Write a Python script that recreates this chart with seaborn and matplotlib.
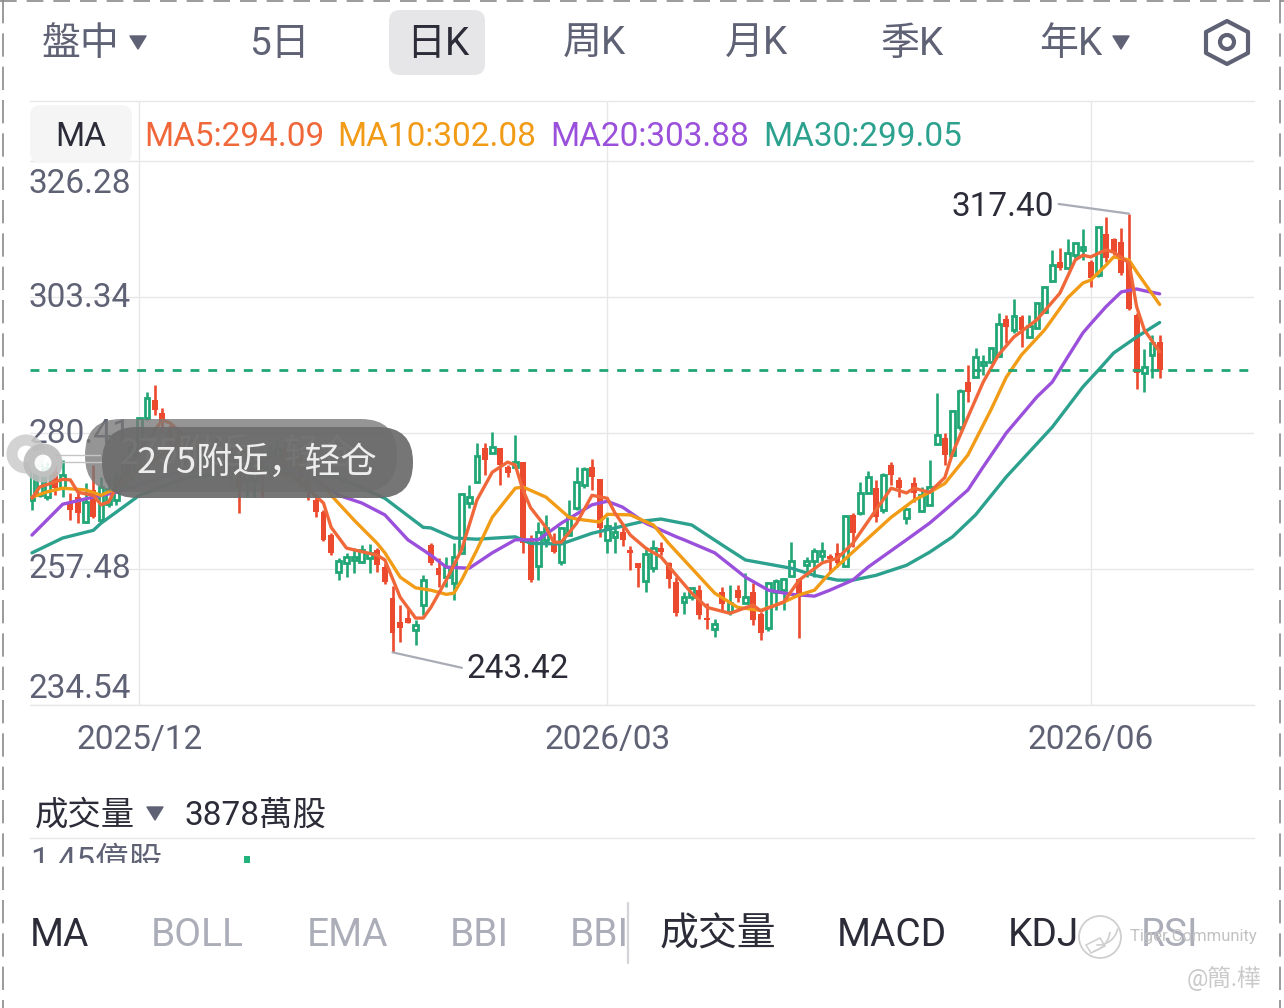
import matplotlib
matplotlib.use("Agg")
import matplotlib.pyplot as plt
import pandas as pd
import seaborn as sns
from matplotlib.patches import FancyBboxPatch, Polygon, Circle, Arc
from matplotlib.transforms import Affine2D

highs = [275.8,275.8,275.5,275.0,275.8,270.3,270.3,272.0,275.0,273.0,
273.0,274.2,276.7,279.2,282.9,287.3,288.5,284.6,281.7,280.9,
280.1,279.2,278.4,279.2,279.6,278.4,277.9,277.2,276.7,277.5,
277.5,278.4,279.2,278.9,279.2,278.4,274.2,269.9,267.4,263.5,
259.3,260.2,261.0,261.5,261.7,261.0,258.5,254.6,251.4,250.9,
248.9,256.4,261.8,259.3,259.5,261.8,270.3,271.6,278.7,278.7,
280.6,277.9,275.0,280.1,275.5,263.2,265.4,266.6,263.5,264.5,
269.1,274.7,274.7,276.0,272.6,266.2,265.4,264.5,261.3,258.5,
261.2,262.4,262.0,258.7,256.1,253.6,254.4,254.8,251.7,249.0,
254.4,254.8,254.8,256.8,255.1,250.2,255.3,255.8,255.9,262.0,
255.9,259.5,261.0,262.0,260.0,261.8,266.6,266.9,272.1,274.0,
272.5,273.7,275.5,273.0,267.7,273.0,271.3,275.8,287.1,280.4,
284.3,287.8,291.9,294.7,293.6,294.9,300.6,300.3,303.0,300.3,
300.3,302.3,305.2,311.3,311.6,313.1,312.4,314.8,309.6,315.1,
316.8,313.3,315.0,317.40,300.6,294.6,296.9,296.9]
lows = [267.4,269.6,269.1,269.9,269.6,265.7,265.2,265.2,266.1,265.7,
268.0,268.3,270.8,272.5,276.7,282.6,283.4,280.6,277.5,276.2,
275.0,273.8,273.3,274.2,274.2,272.8,272.1,266.9,269.6,269.6,
269.6,272.5,273.3,272.8,272.1,271.1,269.1,266.2,262.2,259.8,
255.6,256.1,256.8,258.5,256.8,256.9,254.9,243.42,245.2,248.3,
244.6,249.7,258.1,254.4,254.4,252.2,260.2,267.8,272.0,273.3,
277.0,271.6,273.0,274.5,260.2,255.3,255.6,261.2,260.2,258.1,
263.2,267.4,271.1,270.8,262.9,260.2,260.2,261.3,257.3,254.4,
253.6,256.9,259.8,254.3,249.5,249.9,252.2,249.0,247.3,246.0,
250.2,249.7,251.9,251.7,248.0,245.5,247.0,250.5,250.5,256.3,
245.8,256.1,256.1,258.8,256.8,257.8,257.8,261.2,266.6,270.3,
265.4,266.9,271.6,269.6,265.0,268.8,267.1,268.3,278.4,275.0,
276.5,280.9,285.6,289.8,290.2,292.2,293.2,295.6,297.3,294.9,
296.4,298.1,300.6,305.8,307.9,308.2,309.8,309.6,305.0,306.7,
309.2,310.4,307.0,301.1,287.8,287.3,289.7,289.7]
opens = [269.1,269.9,269.6,273.8,271.1,268.8,269.6,265.4,270.8,265.7,
268.5,269.1,271.6,273.3,277.5,282.9,286.0,283.8,280.9,279.6,
276.2,277.9,274.5,275.0,278.4,277.2,273.8,275.0,272.5,272.5,
276.2,274.2,275.0,277.9,274.5,276.7,272.8,269.1,267.1,263.2,
256.9,258.5,259.0,258.7,259.3,260.7,257.8,252.6,248.5,249.2,
247.2,251.4,261.5,257.6,256.1,255.1,260.2,268.6,272.1,277.9,
277.0,277.9,274.7,274.7,275.5,262.4,258.0,262.4,261.5,258.7,
263.2,267.8,271.6,274.7,272.6,262.4,262.9,263.7,260.7,258.5,
255.4,257.6,261.0,258.5,255.3,251.9,252.7,253.9,249.2,247.3,
253.6,250.2,253.9,251.7,253.6,249.9,247.5,253.6,253.9,256.3,
255.8,258.1,258.9,259.7,259.7,260.2,258.0,266.6,266.9,270.3,
271.1,267.4,275.0,272.5,266.1,272.0,267.3,268.3,278.5,279.6,
276.7,281.4,289.0,289.8,291.9,292.4,293.4,299.6,297.8,300.0,
296.6,298.1,300.8,306.0,309.2,308.2,310.4,311.3,309.2,307.0,
314.0,313.1,312.6,309.1,300.3,290.5,293.6,295.8]
closes = [274.2,275.0,274.5,271.1,273.3,267.4,266.9,268.8,266.2,271.3,
271.0,272.8,275.5,277.9,282.9,286.3,284.3,282.3,279.2,277.5,
278.9,275.0,277.5,278.4,275.5,274.5,276.7,271.1,275.5,276.2,
272.8,277.2,277.9,275.0,277.5,272.8,270.4,267.1,262.4,260.2,
258.9,259.5,259.5,260.7,260.2,258.1,255.3,246.7,247.5,248.3,
248.0,255.6,258.5,256.5,257.8,259.5,270.1,269.6,276.5,275.8,
278.0,275.0,273.7,275.5,261.8,255.6,263.7,264.4,260.3,264.4,
266.2,272.1,274.3,273.0,264.4,264.7,263.7,262.4,260.2,257.6,
260.0,261.0,260.3,255.8,250.0,252.7,254.3,249.7,248.9,248.2,
251.6,251.7,252.6,252.7,248.9,246.7,255.1,255.4,255.8,258.8,
252.7,258.9,260.5,260.5,259.2,258.5,266.4,263.5,270.3,273.0,
266.2,273.3,273.3,271.1,267.6,270.3,269.9,271.3,280.1,276.7,
284.1,287.5,287.3,293.2,292.4,294.7,298.8,298.3,300.1,297.8,
298.5,302.3,305.0,308.7,308.2,310.8,312.4,311.8,306.5,315.1,
309.9,310.8,307.4,301.3,290.5,291.5,295.6,291.03]

ma5_day = [0,1,4,5,6,8,9,10,11,14,17,18,22,28,34,38,39,41,45,46,48,50,51,52,54,56,58,60,62,63,64,65,67,68,69,71,73,75,76,78,80,82,84,86,88,91,94,95,98,100,103,105,107,110,112,114,115,117,119,120,122,124,126,128,131,134,136,137,138,140,141,143,144,145,147]
ma5_val = [269.4,271.3,272.6,272.5,270.4,269.9,268.3,268.8,271.3,277.5,282.6,282.1,277.5,274.2,273.3,268.6,264.5,261.0,259.8,259.0,252.7,249.2,249.2,251.0,255.6,260.7,269.1,273.8,275.5,275.0,270.8,267.8,264.5,262.0,262.0,265.2,269.9,269.4,266.9,263.2,261.0,259.5,256.4,253.4,251.0,250.0,251.4,250.4,251.9,255.6,258.5,259.3,261.8,267.4,271.1,270.3,271.1,270.4,272.9,277.0,283.1,289.0,293.6,296.6,299.5,304.0,309.6,310.4,310.1,311.3,310.9,309.1,301.7,297.8,294.09]
ma10_day = [0,2,4,7,9,11,14,20,30,36,39,42,45,46,48,50,52,54,55,56,58,60,63,64,67,70,71,74,75,78,81,83,86,89,92,95,98,100,102,104,108,112,115,117,119,122,125,127,129,132,135,137,138,140,141,143,144,147]
ma10_val = [269.6,270.5,271.1,270.8,269.9,271.1,274.2,279.2,276.7,274.2,269.9,265.7,261.8,260.2,256.1,254.3,253.9,253.2,253.4,255.6,260.7,266.2,271.1,271.3,269.6,266.2,265.9,265.4,266.7,266.6,264.9,261.8,257.6,253.4,251.0,250.5,251.9,253.1,253.9,256.8,261.5,266.2,269.1,270.4,271.9,276.7,284.3,289.8,293.6,297.8,303.2,305.7,306.2,308.7,310.1,309.6,307.6,302.08]
ma20_day = [0,4,8,11,20,30,36,40,43,46,49,52,54,57,60,63,66,69,73,75,77,80,84,85,89,93,96,99,102,104,107,109,114,117,119,122,124,127,131,133,135,137,138,140,142,144,145,147]
ma20_val = [263.2,268.4,269.6,270.4,274.2,275.8,273.3,269.9,268.6,266.6,262.4,259.8,257.8,257.6,260.2,262.4,262.4,265.2,268.3,268.9,267.9,265.2,262.9,262.4,260.2,256.1,253.9,253.2,252.9,253.9,255.6,257.8,262.4,265.2,267.4,270.8,274.7,280.4,286.5,289.0,293.2,297.3,298.8,301.7,304.2,304.7,304.4,303.88]
ma30_day = [0,4,8,9,14,20,30,40,46,51,52,55,58,63,65,69,73,76,80,82,86,90,93,99,102,105,107,110,114,117,120,123,127,133,137,139,141,144,147]
ma30_val = [260.2,262.7,264.0,265.2,269.9,272.8,274.5,272.8,269.4,264.5,264.4,262.7,262.5,262.9,261.8,261.7,263.5,264.4,265.6,265.9,264.9,261.5,259.0,257.6,256.4,255.6,255.6,256.4,258.1,260.3,262.9,266.6,273.0,281.4,288.2,291.0,293.9,296.6,299.05]

price_ticks = [326.28, 303.34, 280.41, 257.48, 234.54]
price_labels = ["326.28", "303.34", "280.41", "257.48", "234.54"]
price_label_shift = [-19, 3, 3, 3, 19]
date_ticks = [14, 75, 138]
date_labels = ["2025/12", "2026/03", "2026/06"]
last_price = 291.03
vol_day = [28]
vol_val = [1.45]

tabs = [("盤中", 42), ("5日", 249), ("日K", 406), ("周K", 563), ("月K", 725), ("季K", 880), ("年K", 1039)]
ma_legend = [("MA5:294.09", 144, "#F0683A"), ("MA10:302.08", 337, "#F29B16"),
             ("MA20:303.88", 550, "#9B50DC"), ("MA30:299.05", 763, "#2CA18E")]
bottom_tabs = [("MA", 30, "#2B2C38"), ("BOLL", 151, "#ABADB8"), ("EMA", 307, "#ABADB8"), ("BBI", 450, "#ABADB8"),
               ("BBI", 570, "#ABADB8"), ("成交量", 660, "#2B2C38"), ("MACD", 837, "#2B2C38"), ("KDJ", 1008, "#2B2C38"),
               ("RSI", 1141, "#ABADB8")]

GREEN, RED = "#21A675", "#EC4A2E"
GRID, GREY, DARK = "#E7E7EA", "#5F6275", "#2B2C38"
W, H = 1284, 1008

sns.set_theme(style="white")
plt.rcParams["font.family"] = ["Roboto", "Noto Sans CJK TC", "DejaVu Sans"]
plt.rcParams["axes.unicode_minus"] = False

fig = plt.figure(figsize=(W / 100, H / 100), dpi=100, facecolor="white")

def rect(x0, y0, x1, y1):
    return [x0 / W, 1 - y1 / H, (x1 - x0) / W, (y1 - y0) / H]

ax = fig.add_axes(rect(30, 101, 1254, 705))
ax.set_axisbelow(True)
ax.set_facecolor("none")
ax.set_xlim(-0.26, 159.3)
ax.set_ylim(234.54, 336.4)

df = pd.DataFrame({"open": opens, "high": highs, "low": lows, "close": closes})
df["day"] = range(len(df))
df["up"] = df["close"] >= df["open"]
up, down = df[df["up"]], df[~df["up"]]

ax.vlines(up["day"], up["low"], up["high"], color=GREEN, lw=1.9, zorder=2)
ax.vlines(down["day"], down["low"], down["high"], color=RED, lw=1.9, zorder=2)
ax.bar(up["day"], up["close"] - up["open"], bottom=up["open"], width=0.62,
       facecolor="white", edgecolor=GREEN, linewidth=2.0, zorder=3)
ax.bar(down["day"], down["open"] - down["close"], bottom=down["close"], width=0.76,
       color=RED, linewidth=0, zorder=3)

for d, v, c in [(ma30_day, ma30_val, "#2CA18E"), (ma20_day, ma20_val, "#9B50DC"),
                (ma10_day, ma10_val, "#F29B16"), (ma5_day, ma5_val, "#F0683A")]:
    sns.lineplot(x=d, y=v, ax=ax, color=c, lw=2.4, estimator=None, errorbar=None, zorder=4)

ax.axhline(last_price, color=GREEN, lw=2.0, ls=(0, (3.2, 3.2)), zorder=5)

ax.set_xticks(date_ticks, date_labels)
ax.set_yticks(price_ticks, price_labels)
ax.grid(True, color=GRID, lw=1.0)
ax.tick_params(axis="x", length=0, pad=14, labelsize=24, labelcolor=GREY)
ax.tick_params(axis="y", length=0, pad=0, labelsize=24, labelcolor=GREY)
for lab, dy in zip(ax.get_yticklabels(), price_label_shift):
    lab.set_ha("left")
    lab.set_va("center_baseline")
    lab.set_transform(lab.get_transform() + Affine2D().translate(-1.5, dy))
for s in ("left", "right"):
    ax.spines[s].set_visible(False)
for s in ("top", "bottom"):
    ax.spines[s].set_color(GRID)
    ax.spines[s].set_linewidth(1.0)

ax.annotate("317.40", xy=(143, 317.40), xytext=(-75, 10), textcoords="offset pixels",
            ha="right", va="center_baseline", fontsize=24, color=DARK, zorder=6,
            arrowprops=dict(arrowstyle="-", color="#A9ABB6", lw=1.6, shrinkA=1, shrinkB=0, relpos=(1, 0.62)))
ax.annotate("243.42", xy=(47, 243.42), xytext=(74, -13), textcoords="offset pixels",
            ha="left", va="center_baseline", fontsize=24, color=DARK, zorder=6,
            arrowprops=dict(arrowstyle="-", color="#A9ABB6", lw=1.6, shrinkA=1, shrinkB=0, relpos=(0, 0.5)))

# volume strip, cut off right below its first bar
axv = fig.add_axes(rect(30, 838, 1254, 863))
axv.set_facecolor("none")
axv.set_xlim(-0.26, 159.3)
axv.set_ylim(1.275, 1.90)
axv.bar(vol_day, vol_val, width=0.75, color="#22B27C", linewidth=0)
axv.set_xticks([])
axv.set_yticks([])
for s in ("left", "right", "bottom"):
    axv.spines[s].set_visible(False)
axv.spines["top"].set_color(GRID)
axv.spines["top"].set_linewidth(1.0)
axv.text(0, -0.32, "1.45億股", transform=axv.transAxes, fontsize=24, color=GREY,
         va="baseline", ha="left", clip_on=True)

# app chrome, in pixel coordinates
ov = fig.add_axes([0, 0, 1, 1], zorder=10)
ov.set_xlim(0, W)
ov.set_ylim(H, 0)
ov.axis("off")
ov.patch.set_alpha(0)

def box(x0, y0, x1, y1, r, **kw):
    ov.add_patch(FancyBboxPatch((x0 + r, y0 + r), x1 - x0 - 2 * r, y1 - y0 - 2 * r,
                                boxstyle=f"round,pad={r},rounding_size={r}", linewidth=0, **kw))

def tri(cx, cy, c=GREY):
    ov.add_patch(Polygon([(cx - 8, cy - 6), (cx + 8, cy - 6), (cx, cy + 7)], closed=True,
                         facecolor=c, edgecolor=c, lw=1, joinstyle="round"))

def label(x, y, s, size, c, ha="left", **kw):
    ov.text(x, y, s, fontsize=size, color=c, ha=ha, va="center", **kw)

for y0, y1, x0, x1 in [(0, 1008, 3, 3), (0, 1008, 1280, 1280)]:
    ov.plot([x0, x1], [y0, y1], color="#8A8A8A", lw=1.2, ls=(0, (14, 6)))
ov.plot([0, W], [1, 1], color="#8A8A8A", lw=1.2, ls=(0, (10, 6)))

box(389, 10, 485, 75, 11, facecolor="#E6E6E8")
for s, x in tabs:
    label(x, 44, s, 28, DARK if s == "日K" else GREY)
tri(138, 42)
tri(1121, 42)
ov.add_patch(Polygon([(1227, 21), (1248, 32), (1248, 53), (1227, 64), (1206, 53), (1206, 32)], closed=True,
                     facecolor="none", edgecolor=GREY, lw=3, joinstyle="round"))
ov.add_patch(Circle((1227, 42), 7, facecolor="none", edgecolor=GREY, lw=3))

box(30, 105, 132, 163, 11, facecolor="#F5F5F6")
label(81, 137, "MA", 24, DARK, ha="center")
for s, x, c in ma_legend:
    label(x, 137, s, 24, c)

# floating comment bubble with its motion ghost: the front pill lies over the ghost text
SC = ["Noto Sans CJK SC", "DejaVu Sans"]
ov.plot([55, 100], [455, 455], color="#C4C4C4", lw=1)
ov.plot([60, 105], [462, 462], color="#C4C4C4", lw=1)
box(85, 419, 397, 492, 36, facecolor="#787878", alpha=0.78, zorder=1)
label(120, 455, "275附近，轻仓", 25.5, "#E0E0E0", family=SC, zorder=1.5)
box(102, 427, 413, 498, 35, facecolor="#6C6C6C", alpha=0.93, zorder=2)
label(137, 463, "275附近，轻仓", 26, "#EDEDED", family=SC, zorder=3)
ov.add_patch(Circle((26, 454), 14, facecolor="white", edgecolor="#CCCCCC", lw=8, alpha=0.85, zorder=2))
ov.add_patch(Circle((43, 463), 14, facecolor="white", edgecolor="#BBBBBB", lw=8, alpha=0.9, zorder=2))

label(35, 816, "成交量", 24, DARK)
tri(155, 813)
label(185, 816, "3878萬股", 24, DARK)

for s, x, c in bottom_tabs:
    label(x, 935, s, 28, c)
ov.plot([628, 628], [903, 963], color="#D4D4D8", lw=1.6)

# watermark
ov.add_patch(Circle((1100, 937), 21, facecolor="none", edgecolor="#CFCFCF", lw=1.3))
ov.add_patch(Arc((1088, 930), 44, 44, angle=0, theta1=5, theta2=75, color="#CFCFCF", lw=1.2))
ov.add_patch(Arc((1098, 925), 40, 40, angle=0, theta1=10, theta2=95, color="#CFCFCF", lw=1.2))
ov.add_patch(Polygon([(1086, 945), (1100, 938), (1105, 946), (1091, 953)], closed=True,
                     facecolor="none", edgecolor="#CFCFCF", lw=1.1))
label(1130, 937, "Tiger Community", 12, "#C2C2C2")
label(1187, 978, "@簡.樺", 17, "#CACACA")

fig.savefig("out.png", dpi=100, facecolor="white")
